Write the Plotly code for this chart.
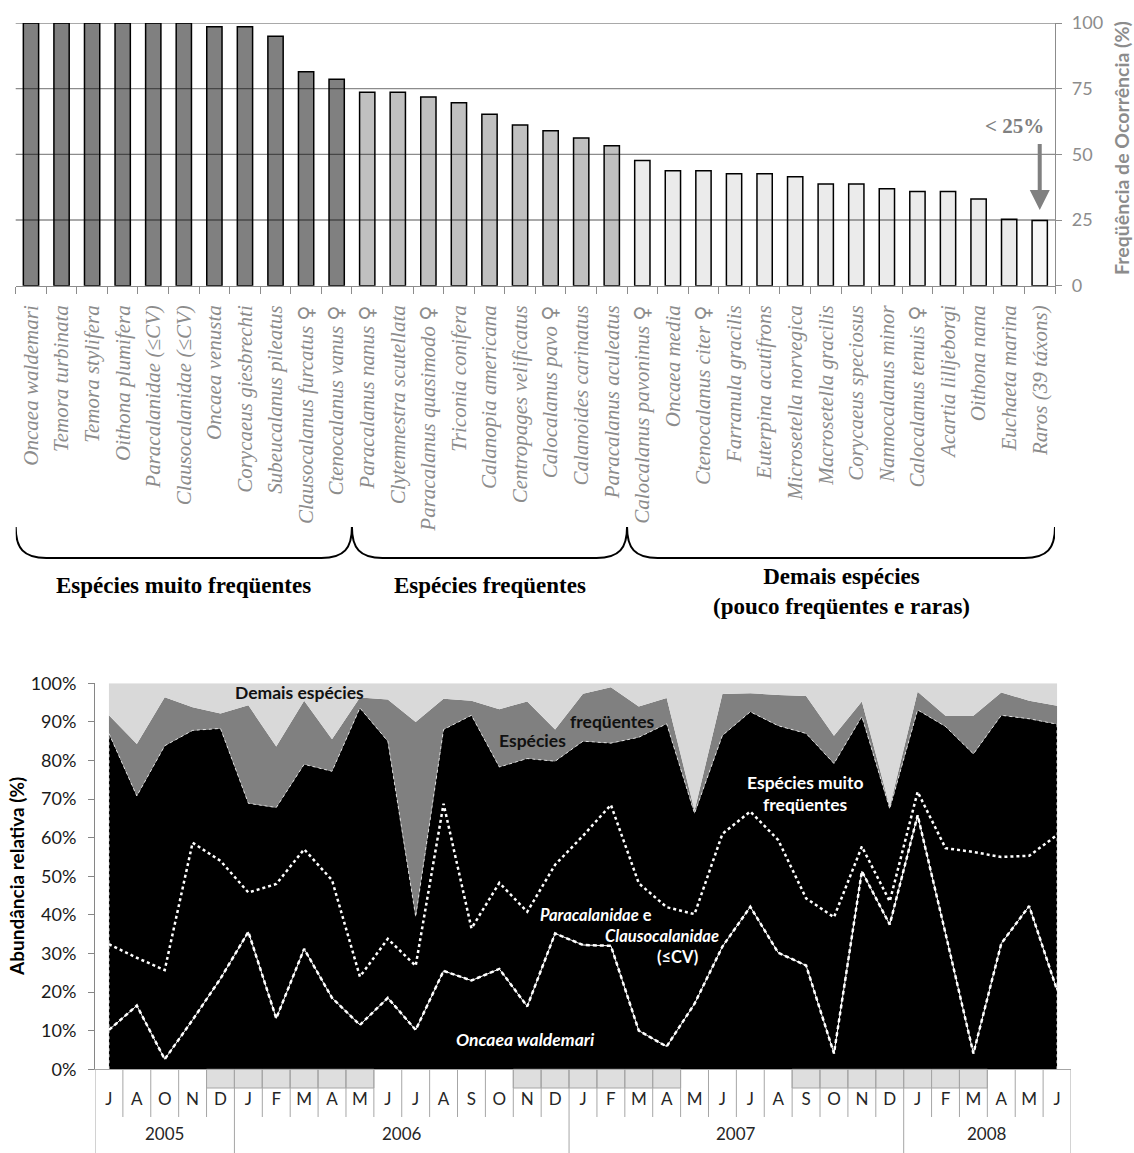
import plotly.graph_objects as go

# ---------------- Top chart data ----------------
species = [
    "Oncaea waldemari", "Temora turbinata", "Temora stylifera", "Oithona plumifera",
    "Paracalanidae (≤CV)", "Clausocalanidae (≤CV)", "Oncaea venusta", "Corycaeus giesbrechti",
    "Subeucalanus pileatus", "Clausocalanus furcatus ♀", "Ctenocalanus vanus ♀",
    "Paracalanus nanus ♀", "Clytemnestra scutellata", "Paracalanus quasimodo ♀",
    "Triconia conifera", "Calanopia americana", "Centropages velificatus",
    "Calocalanus pavo ♀", "Calanoides carinatus", "Paracalanus aculeatus",
    "Calocalanus pavoninus ♀", "Oncaea media", "Ctenocalanus citer ♀", "Farranula gracilis",
    "Euterpina acutifrons", "Microsetella norvegica", "Macrosetella gracilis",
    "Corycaeus speciosus", "Nannocalanus minor", "Calocalanus tenuis ♀", "Acartia lilljeborgi",
    "Oithona nana", "Euchaeta marina", "Raros (39 táxons)",
]
frequency = [100, 100, 100, 100, 100, 100, 98.6, 98.6, 95.0, 81.4, 78.6,
             73.6, 73.6, 71.8, 69.6, 65.3, 61.2, 59.0, 56.2, 53.3,
             47.7, 43.8, 43.8, 42.6, 42.6, 41.5, 38.7, 38.7, 36.9, 35.9, 35.9, 33.0, 25.3, 24.8]
group_labels = ["Espécies muito freqüentes", "Espécies freqüentes",
                "Demais espécies<br>(pouco freqüentes e raras)"]
group_sizes = [11, 9, 14]
group_colors = ["#808080", "#c0c0c0", "#ebebeb"]
rare_color = "#f7f7f7"
freq_ticks = [0, 25, 50, 75, 100]

# ---------------- Bottom chart data ----------------
months = ["J", "A", "O", "N", "D",
          "J", "F", "M", "A", "M", "J", "J", "A", "S", "O", "N", "D",
          "J", "F", "M", "A", "M", "J", "J", "A", "S", "O", "N", "D",
          "J", "F", "M", "A", "M", "J"]
years = ["2005"] * 5 + ["2006"] * 12 + ["2007"] * 12 + ["2008"] * 6
# cumulative relative abundance (%)
oncaea = [10.2, 16.5, 2.6, 12.8, 23.5, 35.6, 13.2, 31.2, 18.5, 11.5, 18.5, 10.2,
          25.5, 23.0, 26.0, 16.3, 35.2, 32.2, 32.0, 10.0, 5.9, 17.0, 31.8, 42.1,
          30.2, 26.9, 4.1, 51.3, 37.5, 65.8, 35.2, 4.1, 32.6, 42.3, 20.5]
paraclaus = [32.4, 28.9, 25.7, 58.7, 54.0, 45.8, 48.0, 57.0, 49.0, 24.0, 33.8, 26.8,
             68.8, 36.5, 48.3, 40.8, 53.0, 60.5, 68.5, 48.2, 42.0, 40.2, 61.0, 66.8,
             59.4, 44.3, 39.4, 57.7, 43.5, 71.9, 57.3, 56.3, 55.0, 55.3, 60.7]
muito_freq = [87.0, 70.8, 83.8, 87.8, 88.3, 68.9, 67.8, 79.0, 77.2, 93.6, 85.0, 39.5,
              88.0, 91.7, 78.3, 80.5, 79.8, 85.0, 84.5, 86.0, 89.5, 66.3, 86.5, 92.6,
              89.0, 87.0, 79.2, 91.4, 67.5, 93.1, 88.8, 81.7, 91.7, 90.8, 89.4]
frequentes = [91.7, 84.3, 96.4, 93.8, 92.2, 94.3, 83.6, 95.5, 85.5, 96.3, 95.8, 90.0,
              96.0, 95.5, 93.3, 95.3, 88.0, 97.3, 99.0, 94.0, 96.2, 67.0, 97.2, 97.4,
              97.0, 96.7, 86.4, 95.3, 68.0, 97.8, 91.6, 91.6, 97.6, 95.5, 94.2]
total = [100] * len(months)
shaded = [0, 0, 0, 0, 1, 1, 1, 1, 1, 1, 0, 0, 0, 0, 0, 1, 1, 1, 1, 1, 1, 0, 0, 0, 0,
          1, 1, 1, 1, 1, 1, 1, 0, 0, 0]
abund_ticks = [0, 10, 20, 30, 40, 50, 60, 70, 80, 90, 100]

W, H = 1134, 1153


def fx(p):
    return p / W


def fy(p):
    return 1 - p / H


SERIF = "Liberation Serif, DejaVu Sans"
SANS = "Lato"
GRAY = "#8c8c8c"

fig = go.Figure()

# ---------------- Top bars ----------------
n = len(species)
xi = list(range(n))
bar_colors = []
for c, s in zip(group_colors, group_sizes):
    bar_colors += [c] * s
bar_colors[-1] = rare_color
fig.add_trace(go.Bar(x=xi, y=frequency, width=0.5,
                     marker=dict(color=bar_colors, line=dict(color="black", width=1.5)),
                     xaxis="x", yaxis="y", showlegend=False, hoverinfo="x+y"))

tick_text = [s.replace("♀", '<span style="font-family:DejaVu Sans;font-style:normal">♀</span>')
             for s in species]

# ---------------- Bottom areas ----------------
mi = list(range(len(months)))
fig.add_trace(go.Scatter(x=mi, y=muito_freq, mode="lines", fill="tozeroy", fillcolor="black",
                         line=dict(color="rgba(255,255,255,0.75)", width=1, dash="dot"),
                         xaxis="x2", yaxis="y2", showlegend=False))
fig.add_trace(go.Scatter(x=mi, y=frequentes, mode="lines", fill="tonexty", fillcolor="#808080",
                         line=dict(color="#808080", width=0), xaxis="x2", yaxis="y2", showlegend=False))
fig.add_trace(go.Scatter(x=mi, y=total, mode="lines", fill="tonexty", fillcolor="#d9d9d9",
                         line=dict(color="#d9d9d9", width=0), xaxis="x2", yaxis="y2", showlegend=False))
# area edges
for k in (0, len(mi) - 1):
    fig.add_trace(go.Scatter(x=[mi[k], mi[k]], y=[0, muito_freq[k]], mode="lines",
                             line=dict(color="rgba(255,255,255,0.8)", width=1.2, dash="dot"),
                             xaxis="x2", yaxis="y2", showlegend=False))
fig.add_trace(go.Scatter(x=mi, y=paraclaus, mode="lines",
                         line=dict(color="white", width=2.5, dash="dot"),
                         xaxis="x2", yaxis="y2", showlegend=False))
fig.add_trace(go.Scatter(x=mi, y=oncaea, mode="lines", line=dict(color="white", width=1),
                         xaxis="x2", yaxis="y2", showlegend=False))
fig.add_trace(go.Scatter(x=mi, y=oncaea, mode="lines",
                         line=dict(color="white", width=2.5, dash="4px,3px"),
                         xaxis="x2", yaxis="y2", showlegend=False))

shapes = []
annotations = []

# top gridlines drawn above bars
for v in freq_ticks[1:]:
    shapes.append(dict(type="line", xref="x domain", x0=0, x1=1, yref="y", y0=v, y1=v,
                       line=dict(color="rgba(0,0,0,0.45)", width=1.3), layer="above"))

# braces
ytop, ymid, ybot = fy(527), fy(548), fy(558)
start = -0.5
for lbl, s in zip(group_labels, group_sizes):
    x0, x1 = start, start + s
    path = (f"M {x0},{ytop} C {x0},{ymid} {x0+0.25},{ybot} {x0+1},{ybot} "
            f"L {x1-1},{ybot} C {x1-0.25},{ybot} {x1},{ymid} {x1},{ytop}")
    shapes.append(dict(type="path", path=path, xref="x", yref="paper",
                       line=dict(color="black", width=2)))
    two = "<br>" in lbl
    annotations.append(dict(text=lbl, x=(x0 + x1) / 2, xref="x",
                            y=fy(591.5) if two else fy(585), yref="paper",
                            showarrow=False, xanchor="center", yanchor="middle",
                            font=dict(family=SERIF, size=23, color="black", weight="bold")))
    start = x1

# arrow "< 25%"
annotations.append(dict(text="", x=n - 1, y=28.8, ax=n - 1, ay=54.5, xref="x", yref="y",
                        axref="x", ayref="y", showarrow=True, arrowhead=2, arrowsize=1,
                        arrowwidth=4, arrowcolor="#808080"))
annotations.append(dict(text="&lt; 25%", x=32.18, y=60.8, xref="x", yref="y", showarrow=False,
                        font=dict(family=SERIF, size=21, color="#808080", weight="bold")))
annotations.append(dict(text="Freqüência de Ocorrência (%)", x=fx(1121), y=fy(148),
                        xref="paper", yref="paper", textangle=-90, showarrow=False,
                        xanchor="center", yanchor="middle",
                        font=dict(family=SANS, size=19.5, color=GRAY, weight="bold")))

# bottom axis decorations
for i, s in enumerate(shaded):
    if s:
        shapes.append(dict(type="rect", xref="x2", x0=i - 0.5, x1=i + 0.5, yref="paper",
                           y0=fy(1088), y1=fy(1069.3), fillcolor="#dedede",
                           line=dict(color="#a6a6a6", width=1)))
for b in range(len(months) + 1):
    is_year = b == 0 or b == len(months) or years[b] != years[b - 1]
    shapes.append(dict(type="line", xref="x2", x0=b - 0.5, x1=b - 0.5, yref="paper",
                       y0=0 if is_year else fy(1117), y1=fy(1069.3),
                       line=dict(color="#a6a6a6", width=1)))
for yr in dict.fromkeys(years):
    idx = [i for i, y in enumerate(years) if y == yr]
    annotations.append(dict(text=yr, x=sum(idx) / len(idx), xref="x2", y=fy(1146), yref="paper",
                            showarrow=False, font=dict(family=SANS, size=17, color="#262626")))

annotations.append(dict(text="Abundância relativa (%)", x=fx(16), y=fy(877), xref="paper",
                        yref="paper", textangle=-90, showarrow=False,
                        xanchor="center", yanchor="middle",
                        font=dict(family=SANS, size=19, color="black", weight="bold")))


def lab(text, x, y, color, size=17.5):
    annotations.append(dict(text=text, x=x, y=y, xref="x2", yref="y2", showarrow=False,
                            font=dict(family=SANS, size=size, color=color, weight="bold")))


lab("Demais espécies", 6.82, 97.5, "#111111")
lab("Espécies", 15.19, 85.3, "#111111")
lab("freqüentes", 18.06, 90.0, "#111111")
lab("Espécies muito", 24.98, 74.4, "white")
lab("freqüentes", 24.98, 68.5, "white")
lab("<i>Paracalanidae</i> e", 17.48, 40.0, "white", 16.5)
lab("<i>Clausocalanidae</i>", 19.82, 34.6, "white", 16.5)
lab("(≤CV)", 20.39, 29.0, "white", 16.5)
lab("<i>Oncaea waldemari</i>", 14.95, 7.85, "white")

fig.update_layout(
    template="none",
    width=W, height=H,
    margin=dict(l=0, r=0, t=0, b=0),
    paper_bgcolor="white", plot_bgcolor="rgba(0,0,0,0)",
    showlegend=False,
    bargap=0.5,
    xaxis=dict(domain=[fx(15.7), fx(1055)], range=[-0.5, n - 0.5], anchor="y",
               tickmode="array", tickvals=xi, ticktext=tick_text, tickangle=-90,
               tickfont=dict(family=SERIF, size=21, color=GRAY, style="italic"),
               ticks="outside", ticklen=10, tickcolor="rgba(0,0,0,0)",
               showline=True, linecolor=GRAY, linewidth=1.3, showgrid=False, zeroline=False,
               automargin=False,
               minor=dict(tickmode="array", tickvals=[i - 0.5 for i in range(n + 1)],
                          ticks="outside", ticklen=7, tickcolor=GRAY, tickwidth=1.3,
                          showgrid=False)),
    yaxis=dict(domain=[fy(285.7), fy(23)], range=[0, 100], anchor="x", side="right",
               tickmode="array", tickvals=freq_ticks,
               tickfont=dict(family=SANS, size=18, color=GRAY),
               ticks="outside", ticklen=6, tickcolor=GRAY, tickwidth=1.3,
               ticklabelstandoff=6,
               showline=True, linecolor=GRAY, linewidth=1.3, showgrid=False, zeroline=False,
               automargin=False),
    xaxis2=dict(domain=[fx(95), fx(1071)], range=[-0.5, len(months) - 0.5], anchor="y2",
                tickmode="array", tickvals=mi, ticktext=months,
                tickfont=dict(family=SANS, size=17, color="#262626"),
                ticks="outside", ticklen=14, tickcolor="rgba(0,0,0,0)",
                showline=True, linecolor="#a6a6a6", linewidth=1, showgrid=False, zeroline=False,
                automargin=False),
    yaxis2=dict(domain=[fy(1069.3), fy(683.3)], range=[0, 100], anchor="x2",
                tickmode="array", tickvals=abund_ticks, ticktext=[f"{v}%" for v in abund_ticks],
                tickfont=dict(family=SANS, size=18, color="#1a1a1a"),
                ticks="outside", ticklen=6, tickcolor="#868686",
                ticklabelstandoff=8,
                showline=True, linecolor="#868686", linewidth=1, showgrid=False, zeroline=False,
                automargin=False),
    shapes=shapes,
    annotations=annotations,
)

fig.write_html("out.html")
